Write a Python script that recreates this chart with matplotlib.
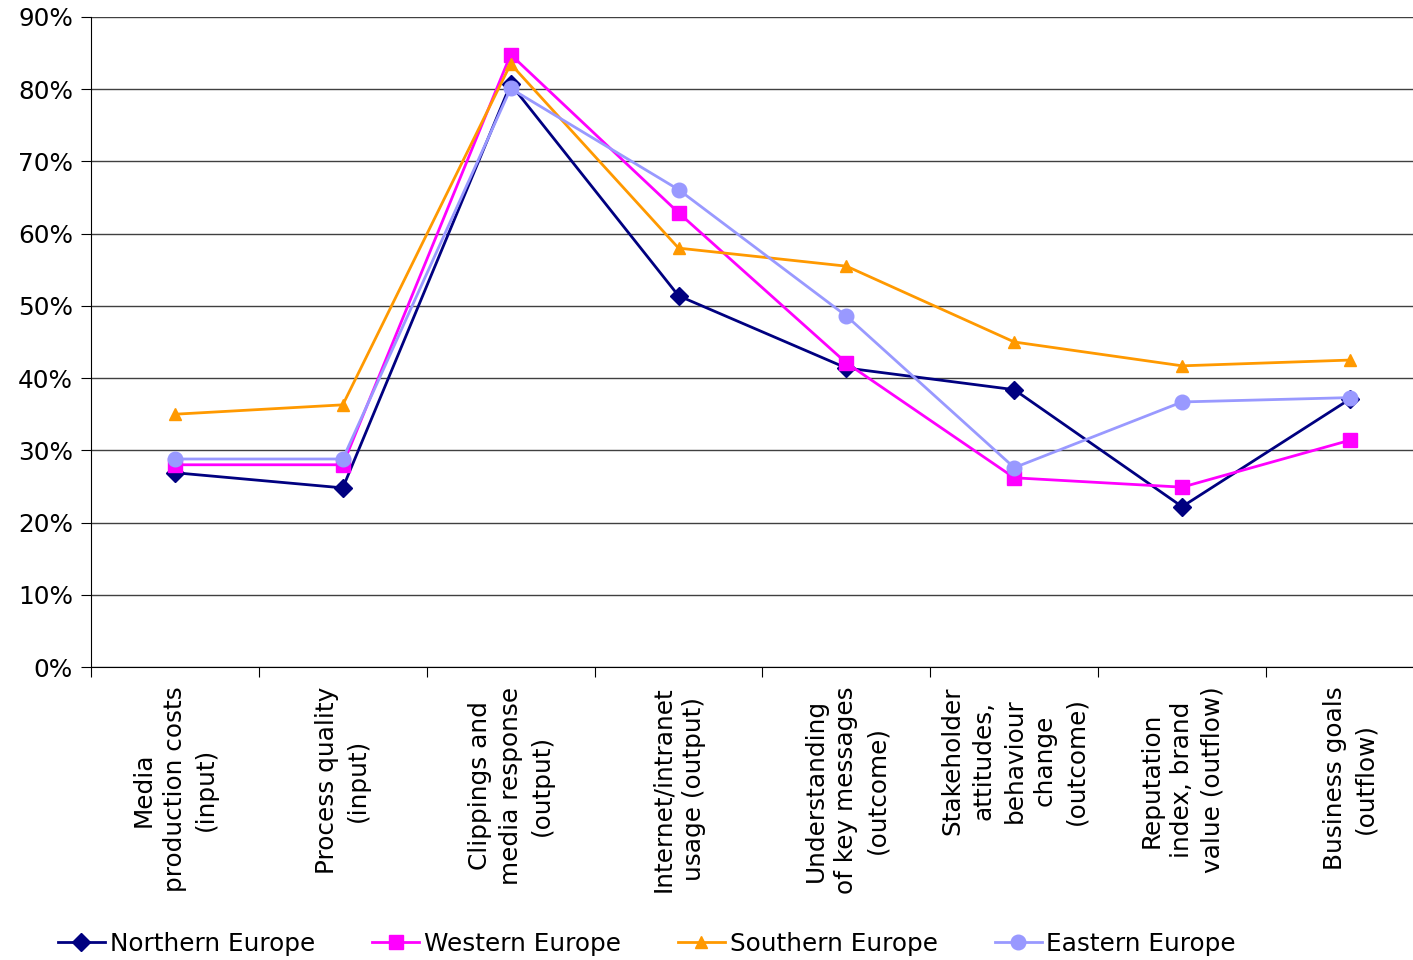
import matplotlib
matplotlib.use("Agg")
import matplotlib.pyplot as plt
from matplotlib.ticker import FuncFormatter, MultipleLocator, FixedLocator

# measurement areas, percentage of respondents per region
categories = [
    "Media\nproduction costs\n(input)",
    "Process quality\n(input)",
    "Clippings and\nmedia response\n(output)",
    "Internet/intranet\nusage (output)",
    "Understanding\nof key messages\n(outcome)",
    "Stakeholder\nattitudes,\nbehaviour\nchange\n(outcome)",
    "Reputation\nindex, brand\nvalue (outflow)",
    "Business goals\n(outflow)",
]
northern = [26.9, 24.8, 80.7, 51.4, 41.4, 38.4, 22.2, 37.1]
western = [28.0, 28.0, 84.8, 62.9, 42.1, 26.2, 24.9, 31.4]
southern = [35.0, 36.3, 83.5, 58.0, 55.5, 45.0, 41.7, 42.5]
eastern = [28.8, 28.8, 80.1, 66.1, 48.6, 27.6, 36.7, 37.3]

series = [
    ("Northern Europe", northern, "#000080", "D", 9),
    ("Western Europe", western, "#FF00FF", "s", 10),
    ("Southern Europe", southern, "#FF9900", "^", 8),
    ("Eastern Europe", eastern, "#9999FF", "o", 10.5),
]

FS = 17.8

fig = plt.figure(figsize=(14.13, 9.6), dpi=100)
# plot area runs a little past the right edge of the figure
ax = fig.add_axes([0.0644, 0.3052, 0.9504, 0.6771])

x = [i + 0.5 for i in range(len(categories))]
for name, vals, col, mk, ms in series:
    ax.plot(x, vals, color=col, marker=mk, markersize=ms, linewidth=2,
            markeredgecolor=col, label=name, zorder=3, clip_on=False)

ax.set_xlim(0, len(categories))
ax.set_ylim(0, 90)
ax.yaxis.set_major_locator(MultipleLocator(10))
ax.yaxis.set_major_formatter(FuncFormatter(lambda v, p: f"{v:.0f}%"))
ax.grid(axis="y", color="#404040", linewidth=1)
ax.set_axisbelow(True)

# category ticks sit between the groups, labels centred on the points
ax.xaxis.set_major_locator(FixedLocator(range(len(categories) + 1)))
ax.set_xticklabels([])
for xi, lab in zip(x, categories):
    ax.text(xi, -2.7, lab, rotation=90, ha="center", va="top",
            multialignment="center", fontsize=FS, linespacing=1.36,
            transform=ax.transData)

for side in ("top", "right"):
    ax.spines[side].set_visible(False)
ax.spines["left"].set_color("black")
ax.spines["bottom"].set_color("black")
ax.tick_params(axis="both", direction="out", length=7, color="black")
ax.tick_params(axis="y", labelsize=FS, pad=6)

fig.legend(loc="center left", bbox_to_anchor=(58 / 1413, 1 - 944 / 960),
           ncol=4, frameon=False, fontsize=FS, handlelength=1.9,
           columnspacing=2.3, handletextpad=0.2, borderpad=0, borderaxespad=0)

plt.savefig("out.png", dpi=100, facecolor="white")
